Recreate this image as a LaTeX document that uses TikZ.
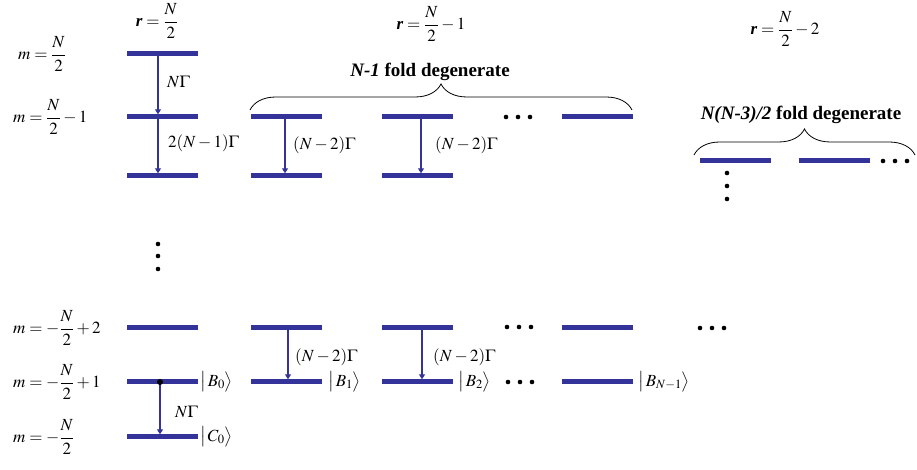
\documentclass[tikz,border=0pt]{standalone}
\usepackage{amsmath}
\usepackage{mathptmx}
\usepackage[no-math]{fontspec}
\setmainfont{Liberation Serif}
\usetikzlibrary{arrows.meta,decorations.pathreplacing}
\definecolor{cLev}{HTML}{333399}

\begin{document}
\begin{tikzpicture}[x=1pt,y=1pt,font=\fontsize{17}{20}\selectfont,
  >={Triangle[length=5pt,width=6pt]},
  level/.style={fill=cLev, minimum width=71pt, minimum height=5pt, inner sep=0pt},
  decay/.style={->, line width=2pt, draw=cLev},
  lab/.style={anchor=west, inner sep=0pt},
  degen/.style={decorate, decoration={brace, amplitude=26pt}, line width=0.8pt},
  degtext/.style={font=\fontsize{19}{22}\selectfont\bfseries},
  dot/.style={fill=black},
]
\useasboundingbox (0,0) rectangle (917,470);

% =================== r = N/2 ===================
\node (rA) at (157,449) {$\textbf{\textit{r}}=\dfrac{N}{2}$};
\node[level] (a1) at (162,416) {};
\node[level] (a2) at (162,353) {};
\node[level] (a3) at (162,294) {};
\node[level] (a4) at (162,142) {};
\node[level] (a5) at (162,88) {};
\node[level] (a6) at (162,33) {};

\node[lab] (m1) at (18,416) {$m=\dfrac{N}{2}$};
\node[lab] (m2) at (13,353) {$m=\dfrac{N}{2}-1$};
\node[lab] (m3) at (13,142) {$m=-\dfrac{N}{2}+2$};
\node[lab] (m4) at (13,88) {$m=-\dfrac{N}{2}+1$};
\node[lab] (m5) at (13,33) {$m=-\dfrac{N}{2}$};

\draw[decay] ([xshift=-4pt]a1.center) -- ([xshift=-4pt]a2.north);
\draw[decay] ([xshift=-4pt]a2.center) -- ([xshift=-4pt]a3.north);
\draw[decay] ([xshift=-2pt]a5.center) -- ([xshift=-2pt]a6.north);
\node[lab] (g1) at (167,388) {$N\Gamma$};
\node[lab] (g2) at (168,327) {$2(N-1)\Gamma$};
\node[lab] (g3) at (175,58) {$N\Gamma$};
\fill[dot] ([xshift=-2pt]a5.center) circle (3);
\node[lab] (kB0) at (200,88) {$\bigl|\,B_0\bigr\rangle$};
\node[lab] (kC0) at (200,33) {$\bigl|\,C_0\bigr\rangle$};

\foreach \y in {226,214,201} \fill[dot] (158,\y) circle (2.3);

% =================== r = N/2 - 1 ===================
\node (rB) at (431,446) {$\textbf{\textit{r}}=\dfrac{N}{2}-1$};
\node[level] (b1) at (286,353) {};
\node[level] (b2) at (286,294) {};
\node[level] (b3) at (286,142) {};
\node[level] (b4) at (286,88) {};
\node[level] (c1) at (417,353) {};
\node[level] (c2) at (417,294) {};
\node[level] (c3) at (417,142) {};
\node[level] (c4) at (417,88) {};
\node[level] (e1) at (597,353) {};
\node[level] (e3) at (597,142) {};
\node[level] (e4) at (597,88) {};

\draw[decay] ([xshift=-1pt]b1.center) -- ([xshift=-1pt]b2.north);
\draw[decay] ([xshift=4pt]c1.center) -- ([xshift=4pt]c2.north);
\draw[decay] ([xshift=2pt]b3.center) -- ([xshift=2pt]b4.north);
\draw[decay] ([xshift=5pt]c3.center) -- ([xshift=5pt]c4.north);
\node[lab] (g4) at (293,325) {$(N-2)\Gamma$};
\node[lab] (g5) at (435,325) {$(N-2)\Gamma$};
\node[lab] (g6) at (295,113) {$(N-2)\Gamma$};
\node[lab] (g7) at (433,113) {$(N-2)\Gamma$};
\node[lab] (kB1) at (328,88) {$\bigl|\,B_1\bigr\rangle$};
\node[lab] (kB2) at (458,88) {$\bigl|\,B_2\bigr\rangle$};
\node[lab] (kBN) at (638,88) {$\bigl|\,B_{N-1}\bigr\rangle$};

\foreach \x/\y in {506/353,518/353,530/353,507/143,519/143,531/143,508/88,520/88,532/88}
  \fill[dot] (\x,\y) circle (2.3);

\draw[degen] (250,360) -- (632,360);
\node[degtext] (dB) at (430,398) {\textit{N-1} fold degenerate};

% =================== r = N/2 - 2 ===================
\node (rC) at (785,441) {$\textbf{\textit{r}}=\dfrac{N}{2}-2$};
\node[level] (f1) at (735,309) {};
\node[level] (f2) at (834,309) {};
\draw[degen] (694,315) -- (915,315);
\node[degtext] (dC) at (801,355) {\textit{N(N-3)/2} fold degenerate};

\foreach \x/\y in {883/309,895/309,907/309,727/297,727/284,727/271,700/142,712/142,724/142}
  \fill[dot] (\x,\y) circle (2.3);

\end{tikzpicture}
\end{document}
